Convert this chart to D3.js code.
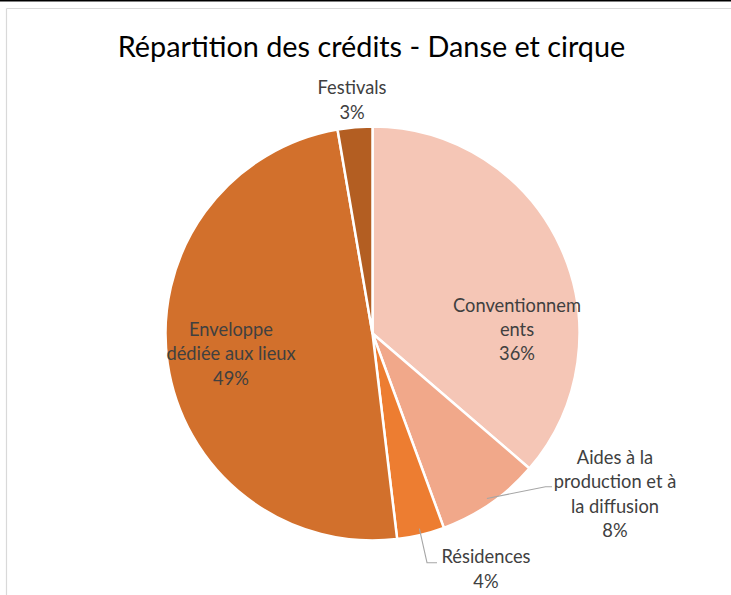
<!DOCTYPE html>
<html>
<head>
<meta charset="utf-8">
<script src="https://cdn.jsdelivr.net/npm/d3@7"></script>
<style>
  html, body { margin: 0; padding: 0; background: #fff; }
  svg { display: block; }
</style>
</head>
<body>
<svg id="chart" width="731" height="595"></svg>
<script>
// ---- Data ----
const categories = ["Conventionnements", "Aides à la production et à la diffusion", "Résidences", "Enveloppe dédiée aux lieux", "Festivals"];
const values = [36.3, 8.1, 3.7, 49.2, 2.7];
const percentLabels = ["36%", "8%", "4%", "49%", "3%"];
const labelLines = [["Conventionnem", "ents"], ["Aides à la", "production et à", "la diffusion"], ["Résidences"], ["Enveloppe", "dédiée aux lieux"], ["Festivals"]];
const colors = ["#F5C6B6", "#F1A88A", "#ED7D31", "#D2702C", "#B35E22"];
const title = "Répartition des crédits - Danse et cirque";

// ---- Layout ----
const W = 731, H = 595;
const cx = 372.5, cy = 333.5, R = 207;
const fontFamily = "Lato, 'Open Sans', sans-serif";
// label block centres, as offsets from the pie centre
const labelOffsets = [[144.5, -4], [242.5, 160.5], [113.5, 235.5], [-141.5, 20.5], [-20.5, -233.5]];
const lineH = 24.3;

const svg = d3.select("#chart");

// frame
svg.append("line").attr("x1", 0).attr("x2", W).attr("y1", 0.75).attr("y2", 0.75)
  .attr("stroke", "#000").attr("stroke-width", 1.5);
svg.append("line").attr("x1", 6.5).attr("x2", W).attr("y1", 8.5).attr("y2", 8.5)
  .attr("stroke", "#D9D9D9").attr("stroke-width", 1.2);
svg.append("line").attr("x1", 6.5).attr("x2", 6.5).attr("y1", 8.5).attr("y2", H)
  .attr("stroke", "#D9D9D9").attr("stroke-width", 1.2);

// title
svg.append("text").attr("x", 371.5).attr("y", 57)
  .attr("text-anchor", "middle")
  .attr("font-family", fontFamily).attr("font-size", 28.8)
  .attr("fill", "#000")
  .text(title);

const data = categories.map((c, i) => ({ cat: c, value: values[i], i }));
const pie = d3.pie().value(d => d.value).sort(null);
const arcs = pie(data);
const arc = d3.arc().innerRadius(0).outerRadius(R);

const g = svg.append("g").attr("transform", `translate(${cx},${cy})`);
g.selectAll("path.slice").data(arcs).enter().append("path")
  .attr("class", "slice")
  .attr("d", arc)
  .attr("fill", d => colors[d.data.i])
  .attr("stroke", "#fff").attr("stroke-width", 2.5).attr("stroke-linejoin", "round");

// leader lines for Aides (1) and Résidences (2)
function leader(idx, frac, elbow, end) {
  const a = arcs[idx];
  const ang = a.startAngle + (a.endAngle - a.startAngle) * frac;
  const p = [Math.sin(ang) * R * 0.97, -Math.cos(ang) * R * 0.97];
  g.append("polyline")
    .attr("points", [p, elbow, end].map(q => q.join(",")).join(" "))
    .attr("fill", "none").attr("stroke", "#A6A6A6").attr("stroke-width", 1.1);
}
leader(1, 0.5, [173, 153.2], [179.5, 153.2]);
leader(2, 0.5, [54.5, 229.2], [64.5, 229.2]);

// labels
arcs.forEach((a) => {
  const i = a.data.i;
  const lines = labelLines[i].concat([percentLabels[i]]);
  const [ox, oy] = labelOffsets[i];
  const y0 = oy - (lines.length - 1) * lineH / 2;
  const t = g.append("text")
    .attr("text-anchor", "middle")
    .attr("font-family", fontFamily).attr("font-size", 18.3)
    .attr("fill", "#404040");
  lines.forEach((ln, j) => {
    t.append("tspan").attr("x", ox).attr("y", y0 + j * lineH).attr("dy", "0.35em").text(ln);
  });
});
</script>
</body>
</html>
